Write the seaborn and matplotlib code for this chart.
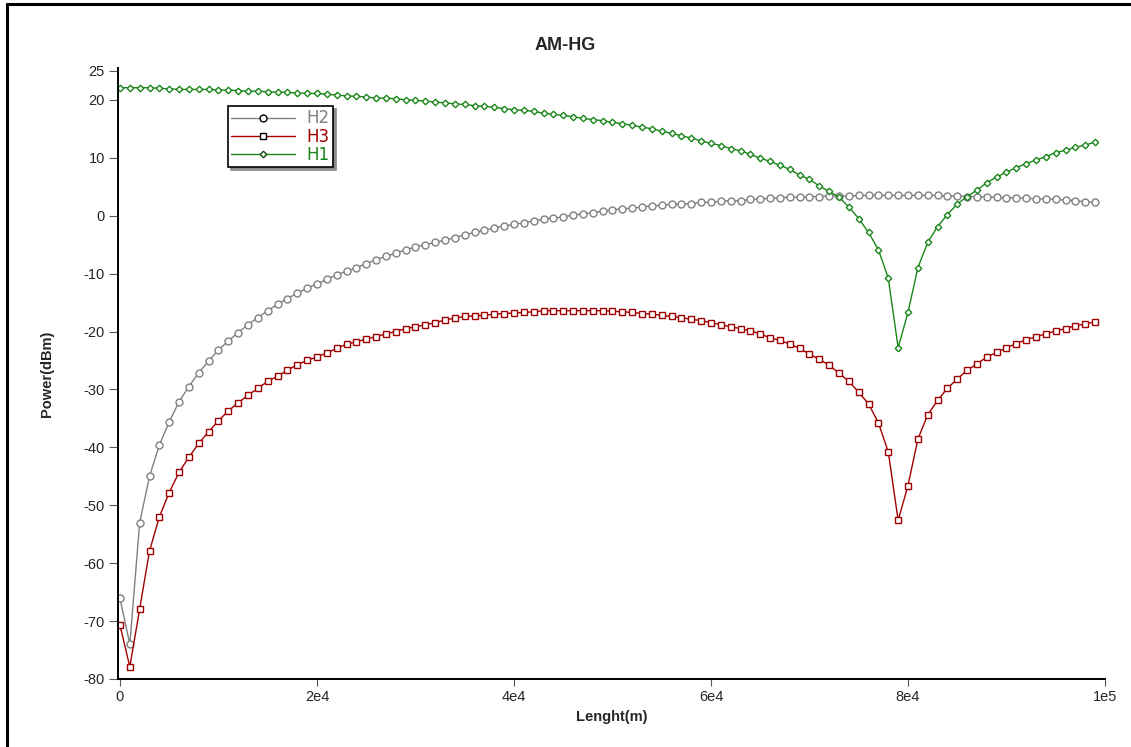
import numpy as np
import pandas as pd
import matplotlib
matplotlib.use("Agg")
import matplotlib.pyplot as plt
from matplotlib.lines import Line2D
import seaborn as sns


# Fiber length samples (m)
length_m = np.arange(0, 100000, 1000)

# Harmonic powers (dBm)
h1_dbm = [22.1, 22.1, 22.1, 22.1, 22.0, 21.9, 21.8, 21.8, 21.8, 21.8,
          21.7, 21.7, 21.6, 21.5, 21.5, 21.4, 21.3, 21.3, 21.2, 21.1,
          21.1, 21.0, 20.8, 20.7, 20.6, 20.5, 20.3, 20.3, 20.2, 20.0,
          19.9, 19.8, 19.6, 19.5, 19.3, 19.2, 19.0, 18.9, 18.7, 18.5,
          18.3, 18.2, 18.0, 17.7, 17.5, 17.3, 17.1, 16.8, 16.6, 16.4,
          16.1, 15.9, 15.6, 15.3, 15.0, 14.6, 14.2, 13.8, 13.4, 12.9,
          12.5, 12.1, 11.6, 11.2, 10.6, 9.9, 9.4, 8.7, 8.0, 7.0,
          6.3, 5.1, 4.2, 3.2, 1.5, -0.5, -2.9, -5.9, -10.8, -22.8,
          -16.7, -9.0, -4.6, -1.9, 0.2, 2.0, 3.3, 4.4, 5.7, 6.7,
          7.5, 8.3, 9.0, 9.6, 10.2, 10.9, 11.3, 11.8, 12.2, 12.7]

h2_dbm = [-66.1, -74.0, -53.0, -45.0, -39.6, -35.6, -32.1, -29.5, -27.1, -25.1,
          -23.2, -21.6, -20.2, -18.8, -17.6, -16.4, -15.3, -14.3, -13.4, -12.5,
          -11.8, -11.0, -10.2, -9.6, -9.0, -8.3, -7.6, -7.0, -6.5, -5.9,
          -5.4, -5.0, -4.6, -4.2, -3.8, -3.3, -2.9, -2.5, -2.1, -1.8,
          -1.5, -1.2, -0.9, -0.6, -0.4, -0.2, 0.1, 0.3, 0.5, 0.8,
          1.0, 1.2, 1.3, 1.5, 1.7, 1.8, 2.0, 2.0, 2.1, 2.3,
          2.3, 2.5, 2.6, 2.6, 2.8, 2.9, 3.0, 3.1, 3.2, 3.2,
          3.3, 3.3, 3.4, 3.4, 3.4, 3.5, 3.5, 3.5, 3.5, 3.5,
          3.5, 3.5, 3.5, 3.5, 3.4, 3.4, 3.3, 3.3, 3.2, 3.2,
          3.1, 3.1, 3.0, 2.9, 2.9, 2.8, 2.7, 2.6, 2.4, 2.3]

h3_dbm = [-70.7, -77.9, -67.9, -57.9, -52.0, -47.8, -44.3, -41.7, -39.3, -37.3,
          -35.4, -33.7, -32.3, -31.0, -29.8, -28.6, -27.7, -26.7, -25.7, -25.0,
          -24.4, -23.7, -22.9, -22.2, -21.8, -21.3, -20.9, -20.4, -20.0, -19.5,
          -19.2, -18.8, -18.5, -18.0, -17.7, -17.4, -17.3, -17.2, -17.0, -16.9,
          -16.8, -16.7, -16.6, -16.4, -16.4, -16.4, -16.4, -16.4, -16.4, -16.4,
          -16.5, -16.6, -16.7, -16.9, -17.0, -17.2, -17.4, -17.6, -17.9, -18.1,
          -18.5, -18.8, -19.2, -19.5, -19.9, -20.4, -21.1, -21.5, -22.2, -22.9,
          -23.9, -24.8, -25.8, -27.2, -28.6, -30.5, -32.5, -35.8, -40.8, -52.6,
          -46.6, -38.6, -34.4, -31.9, -29.8, -28.2, -26.7, -25.6, -24.4, -23.6,
          -22.8, -22.1, -21.4, -20.9, -20.4, -19.9, -19.5, -19.0, -18.7, -18.3]

x_ticks = [0, 20000, 40000, 60000, 80000, 100000]
x_tick_labels = ["0", "2e4", "4e4", "6e4", "8e4", "1e5"]
y_ticks = [-80, -70, -60, -50, -40, -30, -20, -10, 0, 10, 20, 25]

sns.set_style("white")
plt.rcParams["font.family"] = ["Liberation Sans", "DejaVu Sans"]

fig = plt.figure(figsize=(11.31, 7.47), dpi=100)
ax = fig.add_axes([118 / 1131, 1 - 679 / 747, 987 / 1131, 611 / 747])

# series: name, values, color, marker, marker size
series = [
    ("H2", h2_dbm, "#808080", "o", 5),
    ("H3", h3_dbm, "#a00000", "s", 5),
    ("H1", h1_dbm, "#1a861a", "D", 3.3),
]

for name, vals, col, mk, ms in series:
    sns.lineplot(x=length_m, y=vals, ax=ax, color=col, marker=mk,
                 markersize=ms, markerfacecolor="white", markeredgecolor=col,
                 markeredgewidth=1.0, linewidth=1.0, label=name)

ax.set_xlim(-200, 100000)
ax.set_ylim(-80, 25.5)
ax.set_xticks(x_ticks)
ax.set_xticklabels(x_tick_labels)
ax.set_yticks(y_ticks)
ax.set_yticklabels([str(v) for v in y_ticks])

sns.despine(ax=ax)
for side in ["left", "bottom"]:
    ax.spines[side].set_color("black")
    ax.spines[side].set_linewidth(1.4)

ax.tick_params(axis="y", direction="out", length=6.5, width=0.8,
               color="#555555", labelsize=10.5, pad=3)
ax.tick_params(axis="x", direction="out", length=5, width=0.8,
               color="#555555", labelsize=10.5, pad=3)
ax.tick_params(left=True, bottom=True)

ax.set_xlabel("Lenght(m)", fontsize=10.5, fontweight="bold")
ax.set_ylabel("Power(dBm)", fontsize=10.5, fontweight="bold")
ax.xaxis.set_label_coords(0.5, -0.05)
ax.yaxis.set_label_coords(-0.065, 0.5)

fig.text(0.5, 1 - 45 / 747, "AM-HG", fontsize=13, fontweight="bold",
         ha="center", va="center")

# Legend
leg = ax.legend(loc="upper left", bbox_to_anchor=(228 / 1131, 1 - 106 / 747),
                bbox_transform=fig.transFigure,
                prop={"family": "DejaVu Sans", "size": 12}, frameon=True,
                fancybox=False, shadow={"color": "0.55", "alpha": 1.0},
                handlelength=3.8, handletextpad=0.7, labelspacing=0.02,
                borderpad=0.2, borderaxespad=0)
leg.get_frame().set_edgecolor("black")
leg.get_frame().set_linewidth(1.2)
for txt, (name, vals, col, mk, ms) in zip(leg.get_texts(), series):
    txt.set_color(col)
for h, (name, vals, col, mk, ms) in zip(leg.legend_handles, series):
    h.set_markeredgecolor("black" if name != "H1" else "#0d4d0d")

# outer frame lines (left and top)
fig.add_artist(Line2D([7 / 1131, 7 / 1131], [0, 1 - 4 / 747],
                      transform=fig.transFigure, color="black", linewidth=2.2))
fig.add_artist(Line2D([7 / 1131, 1], [1 - 4 / 747, 1 - 4 / 747],
                      transform=fig.transFigure, color="black", linewidth=2.2))

fig.savefig("out.png", dpi=100)
plt.close(fig)
